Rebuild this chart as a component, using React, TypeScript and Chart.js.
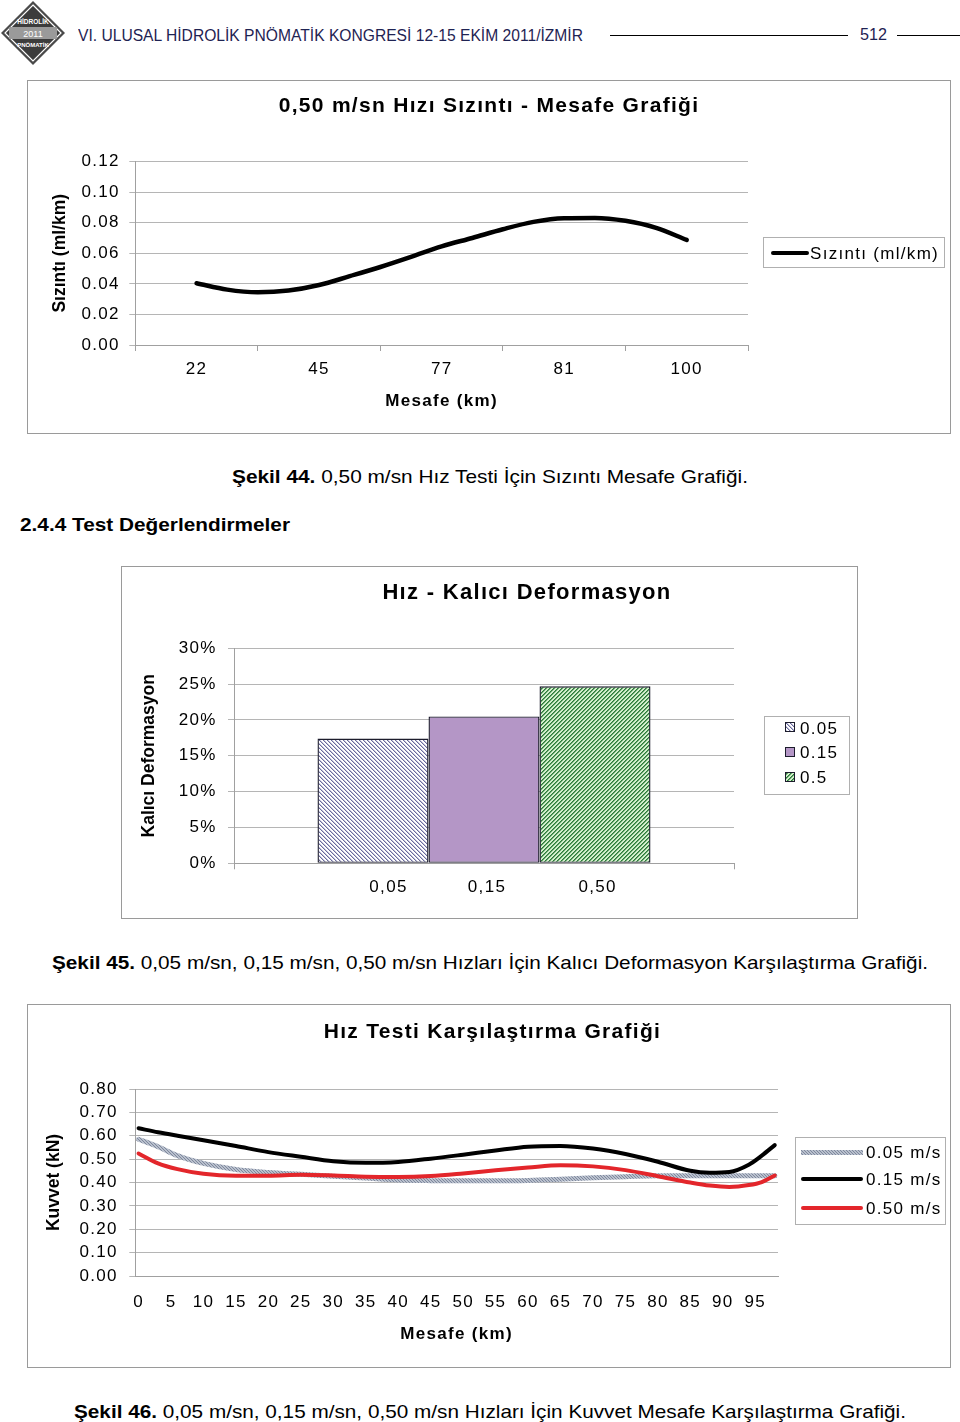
import React, { useEffect, useLayoutEffect, useRef } from 'react';
import { Chart, registerables } from 'chart.js';

Chart.register(...registerables);

const FONT = "'Liberation Sans', Arial, Helvetica, sans-serif";
Chart.defaults.font.family = FONT;
Chart.defaults.color = '#000';

// ---------------- Chart 1 data (Şekil 44) ----------------
const C1_LABELS = ['22', '45', '77', '81', '100'];
// positions along the category axis (category index units)
const C1_POS = [0, 0.25, 0.5, 0.75, 1, 1.25, 1.5, 1.75, 2, 2.25, 2.5, 2.75, 3, 3.25, 3.5, 3.75, 4];
const C1_SIZINTI = [0.0404, 0.0362, 0.0345, 0.0356, 0.0392, 0.045, 0.051, 0.0576, 0.0645, 0.07, 0.0757, 0.0805, 0.0829, 0.0831, 0.0812, 0.0766, 0.0687];
const C1_Y_TICKS = [0, 0.02, 0.04, 0.06, 0.08, 0.1, 0.12];

// ---------------- Chart 2 data (Şekil 45) ----------------
const C2_CATEGORY = ['   0,05          0,15            0,50'];
const C2_SERIES = ['0.05', '0.15', '0.5'];
const C2_VALUES = [17.4, 20.5, 24.7];
const C2_Y_TICKS = [0, 5, 10, 15, 20, 25, 30];

// ---------------- Chart 3 data (Şekil 46) ----------------
const C3_KM = [0, 3, 6, 10, 15, 20, 25, 30, 35, 40, 45, 50, 55, 60, 65, 70, 75, 80, 85, 88, 91, 94, 96, 98];
const C3_V005 = [0.585, 0.553, 0.515, 0.482, 0.456, 0.443, 0.435, 0.427, 0.419, 0.411, 0.408, 0.407, 0.407, 0.409, 0.414, 0.42, 0.425, 0.429, 0.429, 0.429, 0.429, 0.429, 0.429, 0.429];
const C3_V015 = [0.632, 0.615, 0.6, 0.581, 0.556, 0.53, 0.51, 0.491, 0.484, 0.488, 0.502, 0.519, 0.537, 0.553, 0.556, 0.545, 0.522, 0.489, 0.45, 0.442, 0.445, 0.476, 0.515, 0.56];
const C3_V050 = [0.524, 0.482, 0.457, 0.437, 0.429, 0.429, 0.433, 0.43, 0.425, 0.424, 0.428, 0.439, 0.452, 0.464, 0.474, 0.469, 0.453, 0.427, 0.4, 0.387, 0.381, 0.389, 0.402, 0.43];
const C3_SERIES = ['0.05 m/s', '0.15 m/s', '0.50 m/s'];
const C3_X_TICKS = [0, 5, 10, 15, 20, 25, 30, 35, 40, 45, 50, 55, 60, 65, 70, 75, 80, 85, 90, 95];
const C3_Y_TICKS = [0, 0.1, 0.2, 0.3, 0.4, 0.5, 0.6, 0.7, 0.8];

// ---------------- pattern tiles ----------------
function makeTile(n: number, pick: (x: number, y: number) => string) {
  const c = document.createElement('canvas');
  c.width = n;
  c.height = n;
  const g = c.getContext('2d')!;
  for (let y = 0; y < n; y++) {
    for (let x = 0; x < n; x++) {
      g.fillStyle = pick(x, y);
      g.fillRect(x, y, 1, 1);
    }
  }
  return c;
}
const TILE_005 = makeTile(4, (x, y) => {
  const k = (x - y + 4) % 4;
  return k === 0 ? '#6a6a9c' : k === 1 ? '#c2c2da' : '#ffffff';
});
const TILE_050 = makeTile(4, (x, y) => {
  const k = (x + y) % 4;
  return k === 0 ? '#2c7a39' : k === 1 ? '#64a56a' : '#d3efcc';
});
const TILE_GRAY = makeTile(3, (x, y) => {
  const k = (x - y + 3) % 3;
  return k === 0 ? '#7e889d' : '#b9c0cd';
});
const URL_005 = TILE_005.toDataURL();
const URL_050 = TILE_050.toDataURL();
const URL_GRAY = TILE_GRAY.toDataURL();
const PURPLE = '#b496c6';

// ---------------- plugins ----------------
const spacingPlugin = {
  id: 'letterSpacing',
  afterLayout(chart: any) {
    const y = chart.scales.y;
    if (y && !y.__patched) {
      const orig = y.drawTitle;
      y.drawTitle = function (...args: any[]) {
        const ctx = this.ctx;
        const prev = ctx.letterSpacing;
        ctx.letterSpacing = '0px';
        orig.apply(this, args);
        ctx.letterSpacing = prev;
      };
      y.__patched = true;
    }
  },
  beforeDraw(chart: any) {
    chart.ctx.letterSpacing = '1.3px';
  },
};

const GRID = '#b5b5b5';
const AXIS = '#a0a0a0';

function padScale(width: number) {
  return {
    type: 'linear' as const,
    position: 'right' as const,
    display: true,
    ticks: { display: false },
    grid: { display: false, drawTicks: false },
    border: { display: false },
    afterFit: (s: any) => {
      s.width = width;
    },
  };
}

function yScale(opts: {
  max: number;
  ticks: number[];
  fmt: (v: number) => string;
  title: string;
  titlePad: number;
  width: number;
  pad: number;
}) {
  return {
    type: 'linear' as const,
    position: 'left' as const,
    min: 0,
    max: opts.max,
    afterBuildTicks: (s: any) => {
      s.ticks = opts.ticks.map((v) => ({ value: v }));
    },
    grid: { color: GRID, tickLength: 6, lineWidth: 1 },
    border: { color: AXIS },
    ticks: {
      color: '#000',
      font: { size: 17 },
      padding: opts.pad,
      autoSkip: false,
      callback: (v: any) => opts.fmt(Number(v)),
    },
    title: {
      display: true,
      text: opts.title,
      color: '#000',
      font: { size: 17.5, weight: 'bold' as const },
      padding: { top: opts.titlePad, bottom: 0 },
    },
    afterFit: (s: any) => {
      s.width = opts.width;
    },
  };
}

// ---------------- Charts ----------------
function Chart1() {
  const ref = useRef<HTMLCanvasElement>(null);
  useEffect(() => {
    const chart = new Chart(ref.current!, {
      type: 'line',
      data: {
        labels: C1_LABELS,
        datasets: [
          {
            label: 'Sızıntı (ml/km)',
            data: C1_POS.map((p, i) => ({ x: p, y: C1_SIZINTI[i] })),
            xAxisID: 'xl',
            yAxisID: 'y',
            borderColor: '#000',
            borderWidth: 4.5,
            pointRadius: 0,
            cubicInterpolationMode: 'monotone',
            borderCapStyle: 'round',
            fill: false,
          } as any,
        ],
      },
      options: {
        responsive: false,
        animation: false,
        devicePixelRatio: 1,
        layout: { padding: 0 },
        plugins: {
          legend: { display: false },
          tooltip: { enabled: false },
          title: {
            display: true,
            text: '0,50 m/sn Hızı Sızıntı - Mesafe Grafiği',
            color: '#000',
            font: { size: 21, weight: 'bold' },
            padding: { top: 12.4, bottom: 42.9 },
          },
        },
        scales: {
          x: {
            type: 'category',
            position: 'bottom',
            offset: true,
            grid: { offset: true, drawOnChartArea: false, color: AXIS, tickLength: 6 },
            border: { color: AXIS },
            ticks: { color: '#000', font: { size: 17 }, padding: 7.8, maxRotation: 0, autoSkip: false },
            title: {
              display: true,
              text: 'Mesafe (km)',
              color: '#000',
              font: { size: 17, weight: 'bold' },
              padding: { top: 0, bottom: 21.8 },
            },
            afterFit: (s: any) => {
              s.height = 88;
            },
          },
          xl: { type: 'linear', axis: 'x', position: 'bottom', display: false, min: -0.5, max: 4.5 } as any,
          y: yScale({
            max: 0.12,
            ticks: C1_Y_TICKS,
            fmt: (v) => v.toFixed(2),
            title: 'Sızıntı (ml/km)',
            titlePad: 21.8,
            width: 107.3,
            pad: 9.6,
          }),
          pad: padScale(202),
        } as any,
      },
      plugins: [spacingPlugin],
    });
    return () => chart.destroy();
  }, []);
  return <canvas ref={ref} width={922} height={352} style={{ position: 'absolute', left: 28, top: 81, width: 922, height: 352 }} />;
}

function Chart2() {
  const ref = useRef<HTMLCanvasElement>(null);
  useEffect(() => {
    const cv = ref.current!;
    const ctx = cv.getContext('2d')!;
    const fills = [ctx.createPattern(TILE_005, 'repeat'), PURPLE, ctx.createPattern(TILE_050, 'repeat')];
    const chart = new Chart(cv, {
      type: 'bar',
      data: {
        labels: C2_CATEGORY,
        datasets: C2_SERIES.map((name, i) => ({
          label: name,
          data: [C2_VALUES[i]],
          backgroundColor: fills[i] as any,
          borderColor: '#1c1c2c',
          borderWidth: 1.4,
          borderSkipped: false,
          categoryPercentage: 0.666,
          barPercentage: 1,
        })),
      },
      options: {
        responsive: false,
        animation: false,
        devicePixelRatio: 1,
        layout: { padding: 0 },
        plugins: {
          legend: { display: false },
          tooltip: { enabled: false },
          title: {
            display: true,
            text: 'Hız - Kalıcı Deformasyon',
            color: '#000',
            font: { size: 22, weight: 'bold' },
            padding: { top: 12.8, bottom: 42.1 },
          },
        },
        scales: {
          x: {
            type: 'category',
            position: 'bottom',
            grid: { offset: true, drawOnChartArea: false, color: AXIS, tickLength: 6 },
            border: { color: AXIS },
            ticks: { color: '#000', font: { size: 17 }, padding: 7.5, maxRotation: 0, autoSkip: false },
            afterFit: (s: any) => {
              s.height = 53.7;
            },
          },
          y: yScale({
            max: 30,
            ticks: C2_Y_TICKS,
            fmt: (v) => `${Math.round(v)}%`,
            title: 'Kalıcı Deformasyon',
            titlePad: 16.8,
            width: 112,
            pad: 11.3,
          }),
          pad: padScale(198),
        } as any,
      },
      plugins: [spacingPlugin],
    });
    return () => chart.destroy();
  }, []);
  return <canvas ref={ref} width={810} height={350} style={{ position: 'absolute', left: 122, top: 567, width: 810, height: 350 }} />;
}

function Chart3() {
  const ref = useRef<HTMLCanvasElement>(null);
  useEffect(() => {
    const cv = ref.current!;
    const ctx = cv.getContext('2d')!;
    const grayPattern = ctx.createPattern(TILE_GRAY, 'repeat');
    const series = [C3_V005, C3_V015, C3_V050];
    const colors: any[] = [grayPattern, '#000000', '#e3262b'];
    const widths = [5, 4, 4];
    const orders = [2, 1, 0];
    const chart = new Chart(cv, {
      type: 'line',
      data: {
        datasets: C3_SERIES.map((name, i) => ({
          label: name,
          data: C3_KM.map((k, j) => ({ x: k, y: series[i][j] })),
          borderColor: colors[i],
          borderWidth: widths[i],
          pointRadius: 0,
          cubicInterpolationMode: 'monotone',
          borderCapStyle: 'round',
          fill: false,
          order: orders[i],
        })) as any,
      },
      options: {
        responsive: false,
        animation: false,
        devicePixelRatio: 1,
        layout: { padding: 0 },
        plugins: {
          legend: { display: false },
          tooltip: { enabled: false },
          title: {
            display: true,
            text: 'Hız Testi Karşılaştırma Grafiği',
            color: '#000',
            font: { size: 21, weight: 'bold' },
            padding: { top: 14.4, bottom: 44.4 },
          },
        },
        scales: {
          x: {
            type: 'linear',
            position: 'bottom',
            min: -0.5,
            max: 98.5,
            afterBuildTicks: (s: any) => {
              s.ticks = C3_X_TICKS.map((v) => ({ value: v }));
            },
            grid: { drawOnChartArea: false, color: 'rgba(0,0,0,0)', tickLength: 6 },
            border: { color: AXIS },
            ticks: { color: '#000', font: { size: 17 }, padding: 9.8, maxRotation: 0, autoSkip: false, callback: (v: any) => String(v) },
            title: {
              display: true,
              text: 'Mesafe (km)',
              color: '#000',
              font: { size: 17, weight: 'bold' },
              padding: { top: 0, bottom: 22.8 },
            },
            afterFit: (s: any) => {
              s.height = 91;
            },
          },
          y: yScale({
            max: 0.8,
            ticks: C3_Y_TICKS,
            fmt: (v) => v.toFixed(2),
            title: 'Kuvvet (kN)',
            titlePad: 15.2,
            width: 107.3,
            pad: 11.6,
          }),
          pad: padScale(179),
        } as any,
      },
      plugins: [spacingPlugin],
    });
    return () => chart.destroy();
  }, []);
  return <canvas ref={ref} width={929} height={362} style={{ position: 'absolute', left: 28, top: 1005, width: 929, height: 362 }} />;
}

// ---------------- page text helpers ----------------
function FitText({ x, cy, w, size, color = '#000', bold = false, children }: any) {
  const ref = useRef<HTMLDivElement>(null);
  useLayoutEffect(() => {
    const el = ref.current!;
    el.style.transform = 'none';
    const a = el.getBoundingClientRect().width;
    if (a > 0) el.style.transform = `scaleX(${w / a})`;
  }, [w]);
  return (
    <div
      ref={ref}
      style={{
        position: 'absolute',
        left: x,
        top: cy - size * 0.49,
        fontFamily: FONT,
        fontSize: size,
        lineHeight: 1,
        whiteSpace: 'nowrap',
        transformOrigin: '0 0',
        fontWeight: bold ? 'bold' : 'normal',
        color,
      }}
    >
      {children}
    </div>
  );
}

function LegendText({ x, cy, children }: any) {
  return (
    <div
      style={{
        position: 'absolute',
        left: x,
        top: cy - 17 * 0.49,
        fontFamily: FONT,
        fontSize: 17,
        lineHeight: 1,
        letterSpacing: '1.3px',
        whiteSpace: 'nowrap',
        color: '#000',
      }}
    >
      {children}
    </div>
  );
}

function Box({ left, top, width, height, color = '#9a9a9a' }: any) {
  return (
    <div
      style={{
        position: 'absolute',
        left,
        top,
        width,
        height,
        border: `1px solid ${color}`,
        boxSizing: 'border-box',
      }}
    />
  );
}

function Logo() {
  return (
    <svg width={66} height={66} style={{ position: 'absolute', left: 0, top: 0 }} viewBox="0 0 66 66">
      <polygon points="33,1 65,33 33,65 1,33" fill="#4a4a4a" />
      <polygon points="33,5 61,33 33,61 5,33" fill="#3c3c3c" stroke="#ffffff" strokeWidth={1.2} />
      <rect x={9} y={27} width={48} height={12} fill="#9a9a9a" />
      <text x={33} y={24} fill="#ffffff" fontSize={6.5} fontWeight="bold" textAnchor="middle" fontFamily={FONT}>HİDROLİK</text>
      <text x={33} y={36.5} fill="#ffffff" fontSize={9} textAnchor="middle" fontFamily={FONT}>2011</text>
      <text x={33} y={47} fill="#ffffff" fontSize={6} fontWeight="bold" textAnchor="middle" fontFamily={FONT}>PNÖMATİK</text>
    </svg>
  );
}

export default function App() {
  return (
    <div style={{ position: 'absolute', left: 0, top: 0, width: 960, height: 1422, background: '#ffffff', overflow: 'hidden' }}>
      {/* header */}
      <Logo />
      <FitText x={78} cy={36} w={505} size={16} color="#1f2353">
        VI. ULUSAL HİDROLİK PNÖMATİK KONGRESİ 12-15 EKİM 2011/İZMİR
      </FitText>
      <div style={{ position: 'absolute', left: 610, top: 35, width: 238, height: 1, background: '#000' }} />
      <FitText x={860} cy={35} w={27} size={16} color="#1f2353">512</FitText>
      <div style={{ position: 'absolute', left: 897, top: 35, width: 63, height: 1, background: '#000' }} />

      {/* chart 1 */}
      <Box left={27} top={80} width={924} height={354} />
      <Chart1 />
      <Box left={763} top={237} width={182} height={31} color="#b0b0b0" />
      <div style={{ position: 'absolute', left: 771, top: 251, width: 38, height: 4, background: '#000', borderRadius: 2 }} />
      <LegendText x={810} cy={253}>Sızıntı (ml/km)</LegendText>

      <FitText x={232} cy={476} w={516} size={19}>
        <b>Şekil 44.</b> 0,50 m/sn Hız Testi İçin Sızıntı Mesafe Grafiği.
      </FitText>
      <FitText x={20} cy={524} w={270} size={19} bold>
        2.4.4 Test Değerlendirmeler
      </FitText>

      {/* chart 2 */}
      <Box left={121} top={566} width={737} height={353} />
      <Chart2 />
      <Box left={764} top={716} width={86} height={79} color="#b0b0b0" />
      {[URL_005, '', URL_050].map((u, i) => (
        <div
          key={i}
          style={{
            position: 'absolute',
            left: 785,
            top: [722, 747, 772][i],
            width: 10,
            height: 10,
            boxSizing: 'border-box',
            border: '1px solid #1c1c2c',
            background: u ? `url(${u})` : PURPLE,
          }}
        />
      ))}
      {C2_SERIES.map((s, i) => (
        <LegendText key={s} x={800} cy={[728, 752, 777][i]}>{s}</LegendText>
      ))}

      <FitText x={52} cy={962} w={876} size={19}>
        <b>Şekil 45.</b> 0,05 m/sn, 0,15 m/sn, 0,50 m/sn Hızları İçin Kalıcı Deformasyon Karşılaştırma Grafiği.
      </FitText>

      {/* chart 3 */}
      <Box left={27} top={1004} width={924} height={364} />
      <Chart3 />
      <Box left={795} top={1137} width={151} height={88} color="#b0b0b0" />
      <div style={{ position: 'absolute', left: 801, top: 1150, width: 62, height: 5, background: `url(${URL_GRAY})` }} />
      <div style={{ position: 'absolute', left: 801, top: 1177, width: 62, height: 4, background: '#000', borderRadius: 2 }} />
      <div style={{ position: 'absolute', left: 801, top: 1206, width: 62, height: 4, background: '#e3262b', borderRadius: 2 }} />
      {C3_SERIES.map((s, i) => (
        <LegendText key={s} x={866} cy={[1152, 1179, 1208][i]}>{s}</LegendText>
      ))}

      <FitText x={74} cy={1411} w={832} size={19}>
        <b>Şekil 46.</b> 0,05 m/sn, 0,15 m/sn, 0,50 m/sn Hızları İçin Kuvvet Mesafe Karşılaştırma Grafiği.
      </FitText>
    </div>
  );
}
